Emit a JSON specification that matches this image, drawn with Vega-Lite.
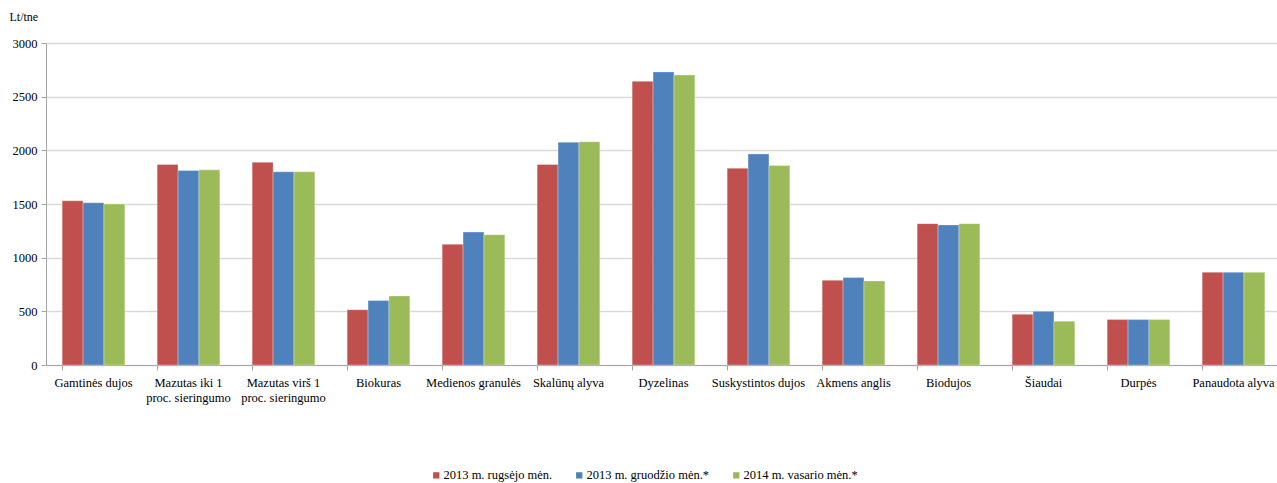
{
  "$schema": "https://vega.github.io/schema/vega-lite/v6.json",
  "autosize": {"type": "none"},
  "padding": {"left": 46, "top": 43, "right": 0, "bottom": 118},
  "width": 1235,
  "height": 322,
  "background": "white",
  "data": {
    "values": [
      {"kuras": "Gamtinės dujos", "laikotarpis": "2013 m. rugsėjo mėn.", "kaina": 1530},
      {"kuras": "Gamtinės dujos", "laikotarpis": "2013 m. gruodžio mėn.*", "kaina": 1512},
      {"kuras": "Gamtinės dujos", "laikotarpis": "2014 m. vasario mėn.*", "kaina": 1500},
      {"kuras": "Mazutas iki 1 proc. sieringumo", "laikotarpis": "2013 m. rugsėjo mėn.", "kaina": 1868},
      {"kuras": "Mazutas iki 1 proc. sieringumo", "laikotarpis": "2013 m. gruodžio mėn.*", "kaina": 1812},
      {"kuras": "Mazutas iki 1 proc. sieringumo", "laikotarpis": "2014 m. vasario mėn.*", "kaina": 1818},
      {"kuras": "Mazutas virš 1 proc. sieringumo", "laikotarpis": "2013 m. rugsėjo mėn.", "kaina": 1888},
      {"kuras": "Mazutas virš 1 proc. sieringumo", "laikotarpis": "2013 m. gruodžio mėn.*", "kaina": 1800},
      {"kuras": "Mazutas virš 1 proc. sieringumo", "laikotarpis": "2014 m. vasario mėn.*", "kaina": 1800},
      {"kuras": "Biokuras", "laikotarpis": "2013 m. rugsėjo mėn.", "kaina": 515},
      {"kuras": "Biokuras", "laikotarpis": "2013 m. gruodžio mėn.*", "kaina": 600},
      {"kuras": "Biokuras", "laikotarpis": "2014 m. vasario mėn.*", "kaina": 643},
      {"kuras": "Medienos granulės", "laikotarpis": "2013 m. rugsėjo mėn.", "kaina": 1124},
      {"kuras": "Medienos granulės", "laikotarpis": "2013 m. gruodžio mėn.*", "kaina": 1238},
      {"kuras": "Medienos granulės", "laikotarpis": "2014 m. vasario mėn.*", "kaina": 1214},
      {"kuras": "Skalūnų alyva", "laikotarpis": "2013 m. rugsėjo mėn.", "kaina": 1868},
      {"kuras": "Skalūnų alyva", "laikotarpis": "2013 m. gruodžio mėn.*", "kaina": 2075},
      {"kuras": "Skalūnų alyva", "laikotarpis": "2014 m. vasario mėn.*", "kaina": 2080},
      {"kuras": "Dyzelinas", "laikotarpis": "2013 m. rugsėjo mėn.", "kaina": 2643},
      {"kuras": "Dyzelinas", "laikotarpis": "2013 m. gruodžio mėn.*", "kaina": 2730},
      {"kuras": "Dyzelinas", "laikotarpis": "2014 m. vasario mėn.*", "kaina": 2702},
      {"kuras": "Suskystintos dujos", "laikotarpis": "2013 m. rugsėjo mėn.", "kaina": 1833},
      {"kuras": "Suskystintos dujos", "laikotarpis": "2013 m. gruodžio mėn.*", "kaina": 1966},
      {"kuras": "Suskystintos dujos", "laikotarpis": "2014 m. vasario mėn.*", "kaina": 1858},
      {"kuras": "Akmens anglis", "laikotarpis": "2013 m. rugsėjo mėn.", "kaina": 789},
      {"kuras": "Akmens anglis", "laikotarpis": "2013 m. gruodžio mėn.*", "kaina": 815},
      {"kuras": "Akmens anglis", "laikotarpis": "2014 m. vasario mėn.*", "kaina": 783},
      {"kuras": "Biodujos", "laikotarpis": "2013 m. rugsėjo mėn.", "kaina": 1317},
      {"kuras": "Biodujos", "laikotarpis": "2013 m. gruodžio mėn.*", "kaina": 1305},
      {"kuras": "Biodujos", "laikotarpis": "2014 m. vasario mėn.*", "kaina": 1317},
      {"kuras": "Šiaudai", "laikotarpis": "2013 m. rugsėjo mėn.", "kaina": 472},
      {"kuras": "Šiaudai", "laikotarpis": "2013 m. gruodžio mėn.*", "kaina": 500},
      {"kuras": "Šiaudai", "laikotarpis": "2014 m. vasario mėn.*", "kaina": 408},
      {"kuras": "Durpės", "laikotarpis": "2013 m. rugsėjo mėn.", "kaina": 423},
      {"kuras": "Durpės", "laikotarpis": "2013 m. gruodžio mėn.*", "kaina": 423},
      {"kuras": "Durpės", "laikotarpis": "2014 m. vasario mėn.*", "kaina": 423},
      {"kuras": "Panaudota alyva", "laikotarpis": "2013 m. rugsėjo mėn.", "kaina": 864},
      {"kuras": "Panaudota alyva", "laikotarpis": "2013 m. gruodžio mėn.*", "kaina": 864},
      {"kuras": "Panaudota alyva", "laikotarpis": "2014 m. vasario mėn.*", "kaina": 864}
    ]
  },
  "mark": {"type": "bar", "stroke": "white", "strokeWidth": 0.6, "strokeOpacity": 0.5},
  "encoding": {
    "x": {
      "field": "kuras",
      "type": "nominal",
      "sort": null,
      "title": null,
      "scale": {"paddingInner": 0.34, "paddingOuter": 0.17},
      "axis": {
        "labelAngle": 0,
        "labelFont": "Liberation Serif",
        "labelFontSize": 12.5,
        "labelColor": "#000000",
        "labelPadding": 6,
        "labelLimit": 200,
        "labelLineHeight": 15,
        "labelExpr": "datum.value == 'Mazutas iki 1 proc. sieringumo' ? ['Mazutas iki 1', 'proc. sieringumo'] : datum.value == 'Mazutas virš 1 proc. sieringumo' ? ['Mazutas virš 1', 'proc. sieringumo'] : datum.value",
        "bandPosition": 0,
        "tickSize": 5,
        "tickColor": "#a6a6a6",
        "domainColor": "#a6a6a6",
        "grid": false
      }
    },
    "xOffset": {
      "field": "laikotarpis",
      "type": "nominal",
      "sort": ["2013 m. rugsėjo mėn.", "2013 m. gruodžio mėn.*", "2014 m. vasario mėn.*"],
      "scale": {"paddingInner": 0, "paddingOuter": 0}
    },
    "y": {
      "field": "kaina",
      "type": "quantitative",
      "scale": {"domain": [0, 3000]},
      "axis": {
        "values": [0, 500, 1000, 1500, 2000, 2500, 3000],
        "format": "d",
        "title": "Lt/tne",
        "titleAngle": 0,
        "titleFont": "Liberation Serif",
        "titleFontSize": 12,
        "titleFontWeight": "normal",
        "titleColor": "#000000",
        "titleAlign": "left",
        "titleBaseline": "alphabetic",
        "titleX": -37,
        "titleY": -23,
        "labelFont": "Liberation Serif",
        "labelFontSize": 12.5,
        "labelColor": "#000000",
        "labelPadding": 4,
        "tickSize": 5,
        "tickColor": "#a6a6a6",
        "domainColor": "#a6a6a6",
        "gridColor": "#d9d9d9",
        "gridWidth": 1.3
      }
    },
    "color": {
      "field": "laikotarpis",
      "type": "nominal",
      "sort": ["2013 m. rugsėjo mėn.", "2013 m. gruodžio mėn.*", "2014 m. vasario mėn.*"],
      "scale": {"range": ["#C0504D", "#4F81BD", "#9BBB59"]},
      "legend": {
        "title": null,
        "orient": "none",
        "direction": "horizontal",
        "legendX": 384,
        "legendY": 426,
        "symbolType": "square",
        "symbolSize": 40,
        "symbolStrokeWidth": 0,
        "labelFont": "Liberation Serif",
        "labelFontSize": 12.5,
        "labelColor": "#000000",
        "labelOffset": 1,
        "columnPadding": 20
      }
    }
  },
  "config": {
    "view": {"stroke": null}
  }
}
